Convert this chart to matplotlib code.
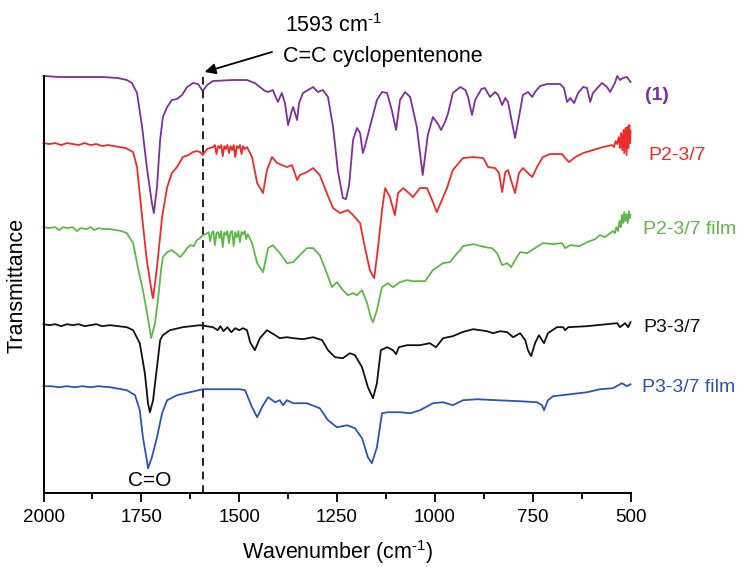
import matplotlib
matplotlib.use("Agg")
import matplotlib.pyplot as plt
from matplotlib.ticker import MultipleLocator

plt.rcParams["font.family"] = ["Liberation Sans", "DejaVu Sans"]
plt.rcParams["mathtext.fontset"] = "custom"
plt.rcParams["mathtext.rm"] = "Liberation Sans"
plt.rcParams["mathtext.default"] = "regular"

# ---- FTIR spectra (wavenumber in cm-1, stacked transmittance in a.u.) ----
wn_1 = [2000, 1960, 1900, 1850, 1810, 1787, 1774, 1761, 1748, 1736, 1723, 1718, 1710, 1702,
        1695, 1684, 1672, 1659, 1646, 1633, 1618, 1605, 1593, 1582, 1567, 1516, 1480, 1460,
        1447, 1434, 1426, 1414, 1401, 1391, 1383, 1375, 1365, 1362, 1352, 1347, 1337, 1311,
        1299, 1286, 1273, 1260, 1248, 1235, 1227, 1219, 1209, 1199, 1191, 1184, 1179, 1166,
        1148, 1135, 1122, 1110, 1099, 1089, 1076, 1063, 1046, 1031, 1018, 1005, 992, 984,
        974, 966, 954, 935, 922, 915, 905, 897, 881, 872, 859, 846, 838, 828, 820, 813, 803,
        795, 785, 775, 762, 751, 744, 731, 713, 680, 670, 662, 654, 644, 634, 621, 611, 603,
        596, 573, 560, 552, 540, 534, 527, 519, 509, 500]
t_1 = [417, 416, 416, 416, 415, 413, 410, 400, 366, 326, 290, 280, 306, 353,
       376, 386, 393, 394, 398, 406, 410, 409, 402, 408, 412, 413, 413, 410,
       406, 402, 401, 403, 391, 400, 390, 368, 383, 386, 373, 390, 400, 406,
       401, 403, 396, 366, 323, 295, 294, 308, 353, 365, 360, 340, 346, 366,
       393, 401, 400, 383, 363, 393, 401, 396, 366, 318, 358, 376, 369, 363,
       371, 380, 400, 406, 403, 396, 378, 393, 404, 405, 396, 401, 398, 388, 395, 391, 371,
       355, 376, 398, 401, 396, 401, 407, 409, 409, 405, 391, 395, 390, 400, 406, 405, 391,
       400, 410, 406, 401, 410, 417, 413, 415, 416, 411]

wn_p2 = [2000, 1985, 1970, 1955, 1940, 1925, 1910, 1895, 1880, 1865, 1850, 1835, 1820, 1805,
         1790, 1771, 1761, 1748, 1736, 1723, 1720, 1710, 1697, 1684, 1672, 1659, 1644, 1630,
         1618, 1608, 1600, 1593, 1582, 1567, 1562, 1558, 1554, 1550, 1546, 1542, 1538, 1534,
         1530, 1526, 1522, 1518, 1514, 1510, 1506, 1502, 1498, 1494, 1490, 1486, 1480, 1467,
         1454, 1439, 1429, 1416, 1403, 1378, 1365, 1352, 1345, 1327, 1311, 1294, 1276, 1260,
         1242, 1222, 1209, 1191, 1179, 1166, 1155, 1145, 1135, 1127, 1115, 1102, 1094, 1081,
         1069, 1056, 1038, 1020, 1007, 995, 982, 969, 954, 928, 902, 876, 864, 846, 836, 828,
         820, 813, 803, 795, 785, 775, 762, 751, 739, 724, 706, 675, 667, 657, 641, 621, 596,
         570, 547, 542, 538, 534, 530, 527, 524, 521, 518, 516, 513, 510, 508, 505, 503, 501, 500]
t_p2 = [350, 349, 350, 348, 350, 349, 348, 350, 348, 349, 347, 348, 347, 346,
        345, 341, 326, 276, 233, 200, 195, 226, 276, 306, 320, 326, 336, 338,
        341, 342, 341, 338, 344, 346, 348, 339, 347, 345, 348, 337, 347, 344,
        348, 340, 347, 343, 348, 336, 347, 345, 348, 339, 347, 344, 346, 336,
        310, 300, 323, 336, 330, 326, 328, 313, 318, 321, 325, 318, 300, 285,
        280, 283, 278, 270, 246, 223, 215, 246, 283, 305, 296, 278, 300, 305,
        301, 296, 305, 305, 293, 281, 293, 305, 323, 335, 336, 335, 326, 325, 320, 301,
        321, 323, 310, 300, 320, 325, 320, 316, 326, 336, 339, 339, 335, 331, 336, 340, 343,
        346, 348, 346, 352, 349, 356, 345, 360, 343, 363, 340, 365, 338, 366, 345, 368, 350, 362]

wn_p2f = [2000, 1985, 1970, 1960, 1950, 1940, 1925, 1915, 1905, 1890, 1880, 1870, 1860, 1845,
          1830, 1800, 1787, 1771, 1759, 1746, 1733, 1725, 1715, 1707, 1700, 1695, 1684, 1672,
          1662, 1651, 1642, 1633, 1624, 1616, 1608, 1600, 1593, 1585, 1578, 1574, 1570, 1566,
          1562, 1558, 1554, 1550, 1546, 1542, 1538, 1534, 1530, 1526, 1522, 1518, 1514, 1510,
          1506, 1502, 1498, 1494, 1490, 1486, 1482, 1478, 1467, 1454, 1439, 1426, 1414, 1396,
          1378, 1362, 1345, 1327, 1311, 1294, 1276, 1263, 1250, 1235, 1222, 1209, 1199, 1186,
          1173, 1163, 1158, 1148, 1135, 1120, 1107, 1089, 1071, 1056, 1025, 1005, 979, 961,
          943, 935, 928, 902, 872, 854, 841, 828, 815, 805, 795, 782, 764, 744, 724, 698, 675,
          667, 654, 630, 611, 590, 578, 565, 552, 545, 540, 536, 532, 528, 525, 522, 519, 516,
          513, 510, 507, 504, 502, 500]
t_p2f = [266, 265, 266, 263, 266, 265, 266, 262, 265, 264, 266, 263, 265, 264,
         264, 262, 260, 250, 226, 203, 175, 155, 170, 195, 222, 236, 241, 243,
         240, 236, 240, 245, 248, 247, 253, 255, 258, 259, 261, 252, 260, 262,
         248, 260, 261, 255, 262, 246, 261, 258, 262, 250, 261, 262, 247, 261,
         256, 262, 251, 261, 259, 262, 254, 259, 250, 230, 221, 245, 248, 240,
         230, 231, 238, 245, 245, 238, 220, 206, 211, 203, 198, 200, 198, 203,
         190, 175, 171, 183, 206, 210, 206, 211, 213, 212, 212, 223, 230, 231,
         240, 243, 247, 249, 246, 245, 240, 228, 230, 226, 233, 241, 240, 245, 250, 249, 250,
         245, 248, 247, 251, 254, 258, 256, 260, 262, 260, 266, 262, 272, 266, 278, 270, 281,
         272, 279, 270, 282, 275, 278]

wn_p3 = [2000, 1985, 1970, 1955, 1940, 1925, 1910, 1895, 1880, 1865, 1850, 1830, 1787, 1771,
         1754, 1741, 1733, 1728, 1720, 1710, 1702, 1695, 1677, 1644, 1600, 1567, 1555, 1548,
         1540, 1530, 1520, 1510, 1500, 1490, 1480, 1472, 1460, 1447, 1429, 1408, 1396, 1378,
         1362, 1337, 1311, 1288, 1273, 1255, 1235, 1217, 1204, 1186, 1171, 1158, 1148, 1138,
         1122, 1107, 1099, 1092, 1071, 1038, 1013, 997, 979, 954, 930, 902, 867, 851, 833,
         815, 800, 782, 769, 762, 754, 744, 734, 721, 711, 688, 672, 667, 659, 611, 560, 534,
         527, 514, 506, 500]
t_p3 = [169, 168, 169, 167, 169, 168, 169, 167, 168, 169, 167, 168, 166, 163,
        150, 120, 90, 81, 93, 126, 153, 158, 163, 166, 168, 166, 163, 167,
        162, 166, 161, 165, 163, 165, 163, 151, 143, 155, 163, 158, 155, 156,
        155, 154, 156, 153, 143, 136, 135, 140, 138, 126, 106, 95, 110, 143,
        146, 143, 139, 146, 148, 148, 150, 146, 155, 157, 161, 164, 162, 160, 162,
        161, 156, 160, 153, 143, 137, 150, 158, 150, 160, 166, 166, 163, 166, 167, 169, 170,
        166, 170, 166, 171]

wn_p3f = [2000, 1980, 1960, 1940, 1920, 1900, 1880, 1860, 1830, 1787, 1766, 1754, 1746, 1736,
          1733, 1723, 1710, 1697, 1684, 1659, 1626, 1593, 1498, 1485, 1467, 1454, 1439, 1426,
          1408, 1396, 1388, 1378, 1362, 1327, 1294, 1273, 1250, 1224, 1204, 1186, 1171, 1161,
          1148, 1135, 1120, 1089, 1063, 1038, 1005, 979, 954, 928, 892, 841, 782, 739, 726,
          721, 711, 698, 654, 611, 578, 545, 522, 509, 500]
t_p3f = [107, 107, 106, 107, 106, 107, 106, 107, 106, 103, 98, 83, 56, 33,
         25, 36, 56, 80, 93, 98, 101, 104, 104, 103, 86, 76, 88, 96,
         91, 93, 88, 93, 90, 90, 85, 73, 66, 68, 65, 55, 36, 30,
         46, 80, 81, 81, 80, 83, 90, 91, 88, 93, 94, 93, 92, 91, 88,
         83, 93, 97, 99, 101, 104, 105, 110, 107, 109]

spectra = [
    (wn_1, t_1, "#7E2F9E", "(1)"),
    (wn_p2, t_p2, "#EE2B2B", "P2-3/7"),
    (wn_p2f, t_p2f, "#5DB847", "P2-3/7 film"),
    (wn_p3, t_p3, "#111111", "P3-3/7"),
    (wn_p3f, t_p3f, "#2B55B2", "P3-3/7 film"),
]

W, H = 737, 567
fig = plt.figure(figsize=(W / 100, H / 100), dpi=100)
ax = fig.add_axes([43.5 / W, 1 - 493.3 / H, 587 / W, 417.3 / H])


def fpx(x, y):
    return x / W, 1 - y / H


for wn, t, col, _ in spectra:
    ax.plot(wn, t, color=col, lw=1.3, clip_on=False, solid_joinstyle="round")

ax.set_xlim(2000, 500)
ax.set_ylim(0, 417)
ax.xaxis.set_major_locator(MultipleLocator(250))
ax.xaxis.set_minor_locator(MultipleLocator(125))
ax.set_yticks([])
ax.tick_params(axis="x", which="major", direction="out", length=6.5, width=1.3,
               labelsize=13.5, pad=5)
ax.tick_params(axis="x", which="minor", direction="out", length=4.3, width=1.3)
for s in ("top", "right"):
    ax.spines[s].set_visible(False)
for s in ("left", "bottom"):
    ax.spines[s].set_linewidth(1.4)

# C=C band marker
ax.plot([1593, 1593], [0, 420], ls=(0, (4, 3)), color="#222222", lw=1.4, clip_on=False)
ax.annotate("", xy=(1588, 421), xycoords="data",
            xytext=(272, H - 52), textcoords="figure pixels",
            annotation_clip=False,
            arrowprops=dict(arrowstyle="-|>", color="black", lw=1.3, mutation_scale=16,
                            shrinkA=0, shrinkB=0))
fig.text(*fpx(285, 32), r"1593 cm$^{\text{-1}}$", fontsize=15.5, ha="left", va="baseline")
fig.text(*fpx(283, 62), "C=C cyclopentenone", fontsize=15.5, ha="left", va="baseline")
fig.text(*fpx(150, 481), "C=O", fontsize=15, ha="center", va="center")

# sample labels
label_pos = [(645, 96), (648, 155), (643, 230), (643, 327), (642, 388)]
for (wn, t, col, name), (lx, ly) in zip(spectra, label_pos):
    fig.text(*fpx(lx, ly), name, color=col, fontsize=14, ha="left", va="center",
             fontweight="bold" if name == "(1)" else "normal")

fig.text(*fpx(17.5, 285), "Transmittance", rotation=90, fontsize=15.5,
         ha="center", va="center")
fig.text(*fpx(337.5, 559), r"Wavenumber (cm$^{\text{-1}}$)", fontsize=15.5,
         ha="center", va="baseline")

fig.savefig("out.png", dpi=100)
